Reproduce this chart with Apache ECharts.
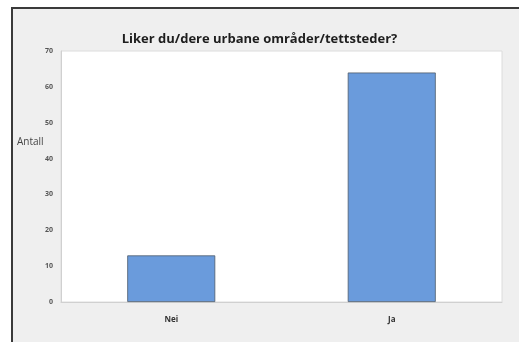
<!DOCTYPE html>
<html>
<head>
<meta charset="utf-8">
<script src="https://cdn.jsdelivr.net/npm/echarts@6/dist/echarts.min.js"></script>
<style>
html, body { margin: 0; padding: 0; background: #fff; }
#chart { width: 519px; height: 342px; }
</style>
</head>
<body>
<div id="chart"></div>
<script>
// Survey answers: "Liker du/dere urbane områder/tettsteder?"
const categories = ['Nei', 'Ja'];
const counts = [13, 64];
const yTicks = { min: 0, max: 70, step: 10 };

const chart = echarts.init(document.getElementById('chart'), null, { renderer: 'canvas' });
const font = '"Open Sans", "DejaVu Sans", sans-serif';

chart.setOption({
  backgroundColor: '#ffffff',
  animation: false,
  graphic: [
    {
      type: 'rect', z: -10, silent: true,
      shape: { x: 12, y: 8, width: 520, height: 340 },
      style: { fill: '#efefef', stroke: '#3a3a3a', lineWidth: 2 }
    },
    {
      type: 'text', left: 17, top: 137, silent: true,
      style: { text: 'Antall', font: '10px ' + font, fill: '#444' }
    }
  ],
  title: {
    text: 'Liker du/dere urbane områder/tettsteder?',
    left: 'center', top: 28,
    textStyle: { fontFamily: font, fontSize: 13, fontWeight: 'bold', color: '#1e1e1e' }
  },
  grid: {
    left: 61, right: 17, top: 51, bottom: 40,
    show: true, backgroundColor: '#ffffff', borderColor: '#dcdcdc', borderWidth: 1
  },
  xAxis: {
    type: 'category',
    data: categories,
    axisLine: { lineStyle: { color: '#d0d0d0' } },
    axisTick: { show: false },
    axisLabel: { fontFamily: font, fontSize: 8, fontWeight: 'bold', color: '#333', margin: 14 }
  },
  yAxis: {
    type: 'value',
    min: yTicks.min, max: yTicks.max, interval: yTicks.step,
    axisLine: { show: true, lineStyle: { color: '#d0d0d0' } },
    axisTick: { show: false },
    splitLine: { show: false },
    axisLabel: { fontFamily: font, fontSize: 7, fontWeight: 'bold', color: '#555', margin: 8 }
  },
  series: [{
    type: 'bar',
    data: counts,
    barWidth: 88,
    itemStyle: { color: '#6a9bdc', borderColor: '#4d5a6a', borderWidth: 0.8 }
  }]
});
</script>
</body>
</html>
